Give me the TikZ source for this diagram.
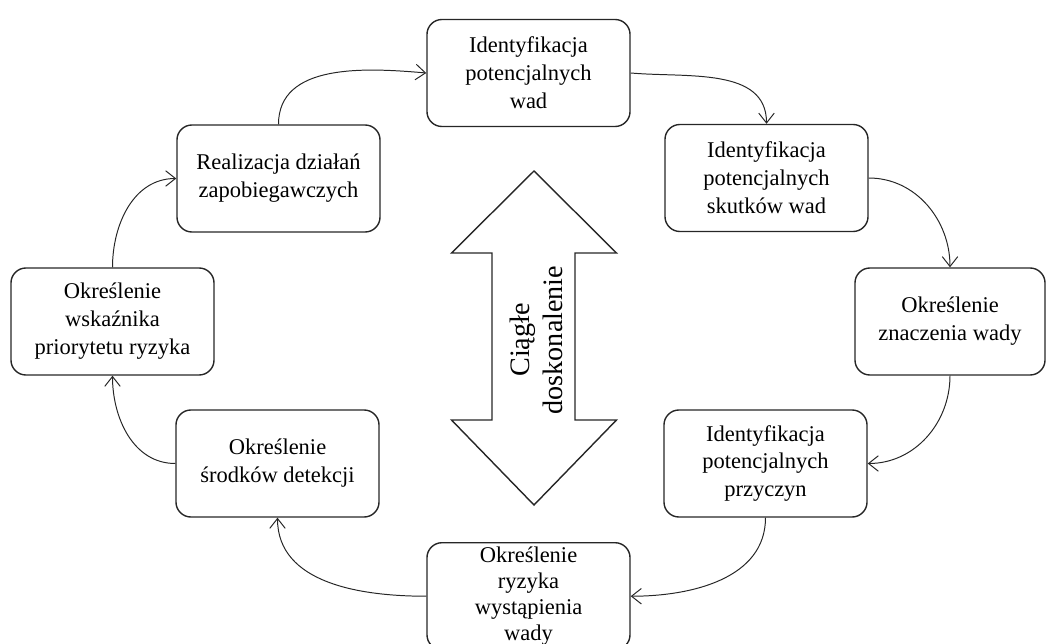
\documentclass[tikz,border=0pt]{standalone}
\usepackage{fontspec}
\setmainfont{Liberation Serif}
\usetikzlibrary{arrows.meta}
\tikzset
{
    stepnode/.style = {rectangle, rounded corners=0.375cm, draw=black!85, line width=1pt, align=center, minimum width=5.075cm, minimum height=2.675cm, font=\fontsize{16}{19.9}\selectfont},
    flowline/.style = {->, draw=black!85, line width=0.7pt},
    bigarrow/.style = {draw=black!85, line width=1pt, line join=miter}
}

\begin{document}
\begin{tikzpicture}[x=0.025cm, y=-0.025cm, >={Straight Barb[length=7pt,width=11pt]}]
    \useasboundingbox (0,0) rectangle (1046,644);

    \node [stepnode] (wady)      at (528.5,73)  {Identyfikacja\\potencjalnych\\wad};
    \node [stepnode] (skutki)    at (766.5,178) {Identyfikacja\\potencjalnych\\skutków wad};
    \node [stepnode, minimum width=4.75cm] (znaczenie) at (950,321.5) {Określenie\\znaczenia wady};
    \node [stepnode] (przyczyny) at (765.5,463.5) {Identyfikacja\\potencjalnych\\przyczyn};
    \node [stepnode, inner sep=1pt, anchor=north, font=\fontsize{16}{18.4}\selectfont] (ryzyko) at (528.5,542) {Określenie\\ryzyka\\wystąpienia\\wady};
    \node [stepnode] (detekcja)  at (277.5,463.5) {Określenie\\środków detekcji};
    \node [stepnode] (wskaznik)  at (112.5,321.5) {Określenie\\wskaźnika\\priorytetu ryzyka};
    \node [stepnode] (dzialania) at (278.5,178.5) {Realizacja działań\\zapobiegawczych};

    \draw [flowline] (wady.east)       to[out=-5,in=90]  (skutki.north);
    \draw [flowline] (skutki.east)     to[out=0,in=90]   (znaczenie.north);
    \draw [flowline] (znaczenie.south) to[out=-90,in=0]  (przyczyny.east);
    \draw [flowline] (przyczyny.south) to[out=-90,in=0]  (ryzyko.east);
    \draw [flowline] (ryzyko.west)     to[out=180,in=-90] (detekcja.south);
    \draw [flowline] (detekcja.west)   to[out=180,in=-90] (wskaznik.south);
    \draw [flowline] (wskaznik.north)  to[out=90,in=180] (dzialania.west);
    \draw [flowline] (dzialania.north) to[out=90,in=175] (wady.west);

    \draw [bigarrow] (534,171) -- (616.5,253) -- (575,253) -- (575,420) -- (616.5,420) -- (534,505)
        -- (451.5,420) -- (492,420) -- (492,253) -- (451.5,253) -- cycle;
    \node [rotate=90, align=center, font=\fontsize{20}{23.4}\selectfont] (haslo) at (536.5,340) {Ciągłe\\doskonalenie};
\end{tikzpicture}
\end{document}
